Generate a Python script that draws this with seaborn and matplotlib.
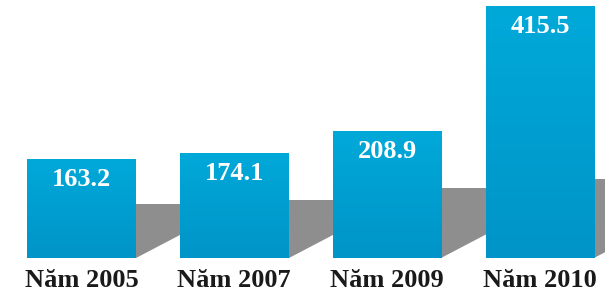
import numpy as np
import pandas as pd
import matplotlib
matplotlib.use("Agg")
import matplotlib.pyplot as plt
from matplotlib.patches import Polygon
import seaborn as sns

# data
years = ["Năm 2005", "Năm 2007", "Năm 2009", "Năm 2010"]
values = [163.2, 174.1, 208.9, 415.5]

df = pd.DataFrame({"year": years, "value": values})

sns.set_theme(style="white")
plt.rcParams["font.family"] = ["Liberation Serif", "DejaVu Serif"]

fig = plt.figure(figsize=(6.05, 2.92), dpi=100)
ax = fig.add_axes([0, 34 / 292, 1, 258 / 292])

sns.barplot(data=df, x="year", y="value", color="#009fd2", width=0.71,
            saturation=1, linewidth=0, edgecolor="none", ax=ax, zorder=3)

# vertical gradient on each bar + grey drop shadow to the right
grad = np.linspace(0, 1, 256).reshape(-1, 1)
cmap = matplotlib.colors.LinearSegmentedColormap.from_list(
    "bar", ["#0094c8", "#00a9d9"])
for p, v in zip(ax.patches, values):
    x0, y0 = p.get_x(), p.get_y()
    w, h = p.get_width(), p.get_height()
    im = ax.imshow(grad, extent=[x0, x0 + w, y0, y0 + h], origin="lower",
                   cmap=cmap, aspect="auto", zorder=4)
    im.set_clip_path(p)
    # shadow (decorative)
    sh = min(0.55 * v, 130)
    x1 = x0 + w
    run = 0.55
    shadow = Polygon([(x1, 0), (x1, sh), (x1 + run, sh), (x1 + run, 72)],
                     closed=True, facecolor="#8e8e8e", edgecolor="none",
                     zorder=1)
    ax.add_patch(shadow)
    ax.text(x0 + w / 2, y0 + h - 9 / 0.606, f"{v:.1f}", ha="center",
            va="top", color="white", fontsize=19, fontweight="bold",
            zorder=5, fontfamily=["Liberation Serif", "DejaVu Serif"])

ax.set_xlim(-0.533, 3.426)
ax.set_ylim(0, 426)
ax.set_xlabel("")
ax.set_ylabel("")
ax.set_yticks([])
ax.tick_params(axis="x", length=0, pad=8)
for lab in ax.get_xticklabels():
    lab.set_fontsize(19)
    lab.set_fontweight("bold")
    lab.set_color("#1a1a1a")
    lab.set_fontfamily(["Liberation Serif", "DejaVu Serif"])
sns.despine(ax=ax, left=True, bottom=True)
ax.set_facecolor("none")
fig.patch.set_facecolor("white")

fig.savefig("out.png", dpi=100)
